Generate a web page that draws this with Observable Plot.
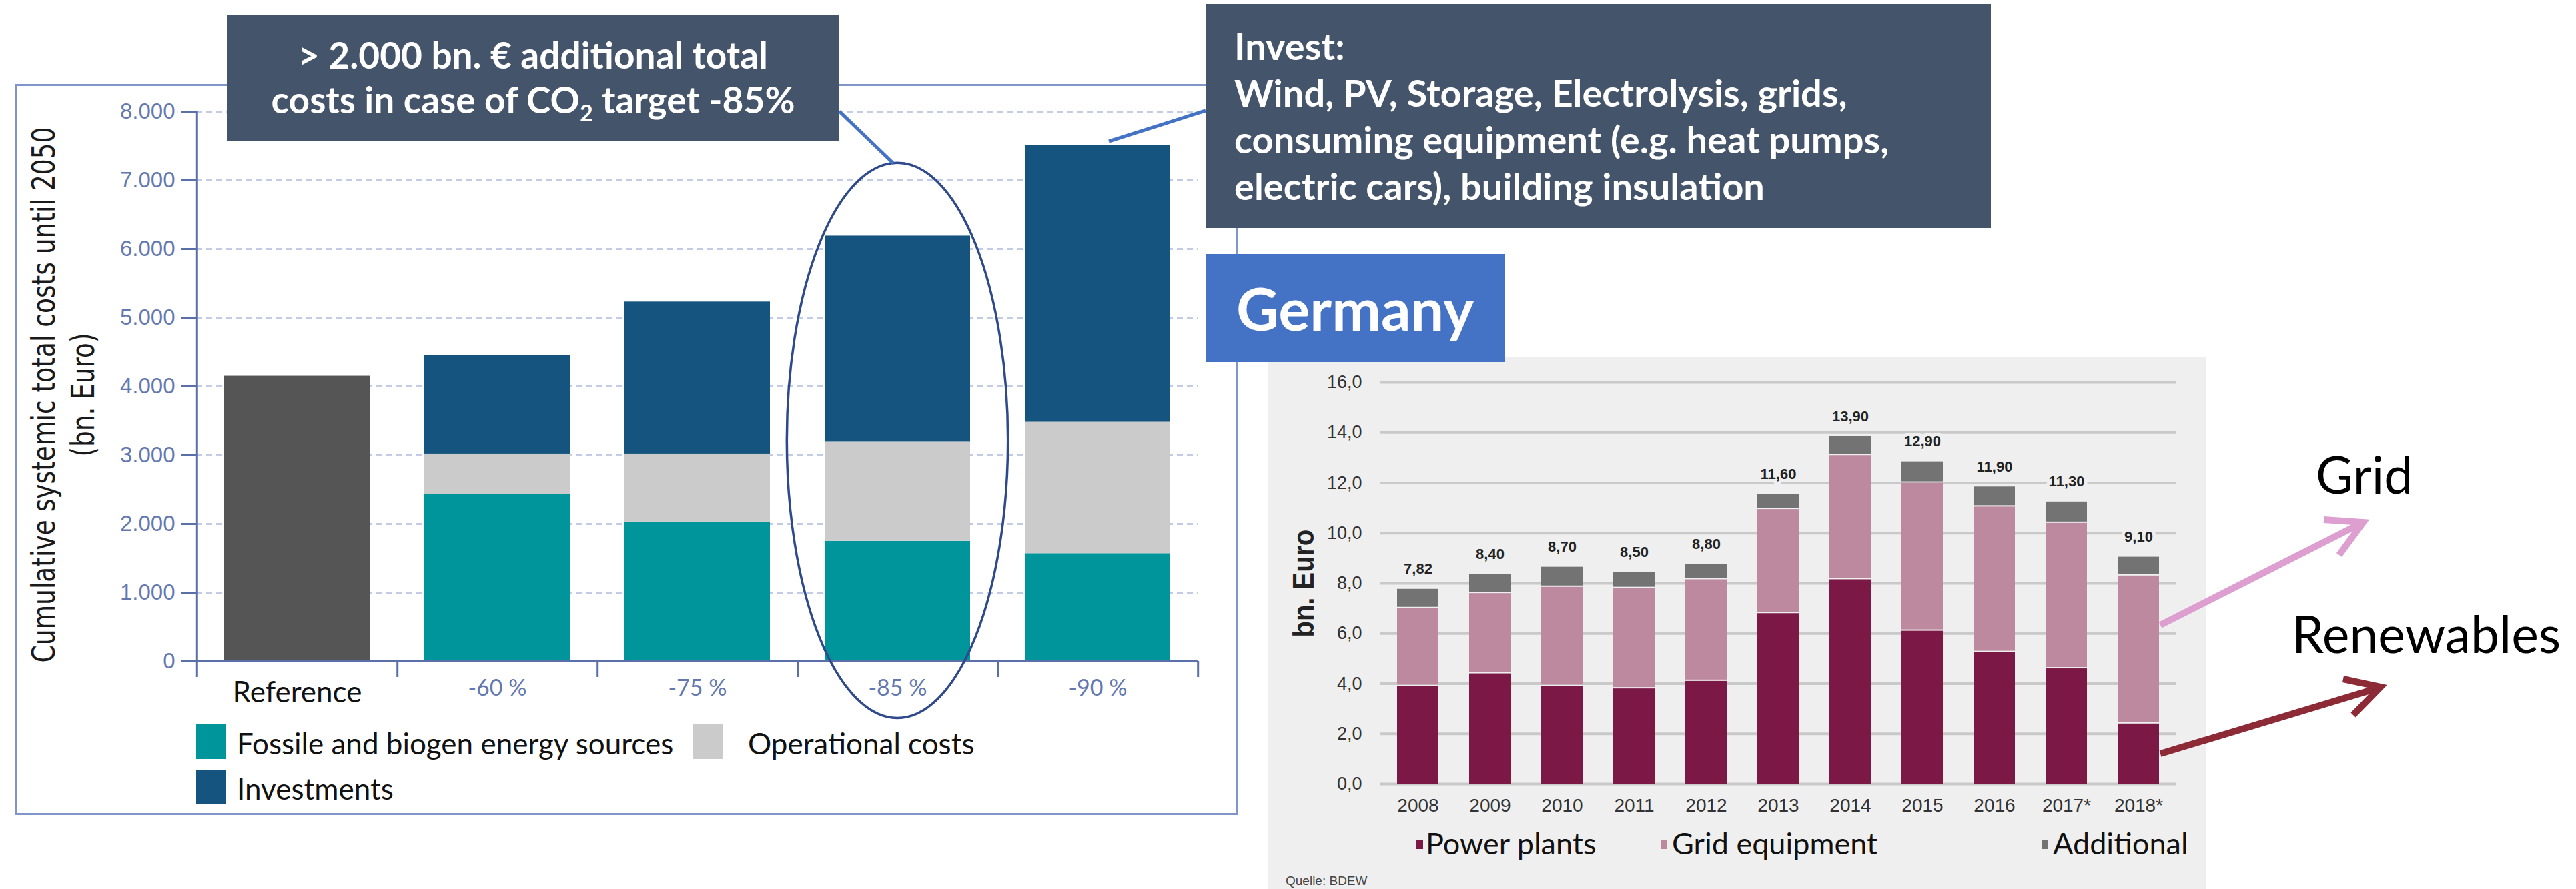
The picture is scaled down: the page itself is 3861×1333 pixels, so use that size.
<!DOCTYPE html>
<html>
<head>
<meta charset="utf-8">
<script src="https://cdn.jsdelivr.net/npm/d3@7"></script>
<script src="https://cdn.jsdelivr.net/npm/@observablehq/plot@0.6"></script>
<style>
html, body { margin: 0; padding: 0; background: #ffffff; }
#stage { position: relative; width: 3861px; height: 1333px; overflow: hidden; font-family: Lato, "Open Sans", sans-serif; }
.abs { position: absolute; }
#frame { left: 22px; top: 126px; width: 1833px; height: 1096px; border: 3px solid #8196c8; box-sizing: border-box; z-index: 0; }
#leftChart { left: 0; top: 0; z-index: 1; }
#rightChart { left: 1901px; top: 535px; z-index: 1; }
.box { background: #44546a; color: #ffffff; font-weight: bold; z-index: 3; box-sizing: border-box; white-space: nowrap; }
#box1 { left: 340px; top: 22px; width: 918px; height: 189px; font-size: 55px; line-height: 67px; text-align: center; padding-top: 27px; }
#box2 { left: 1807px; top: 6px; width: 1177px; height: 336px; font-size: 56px; line-height: 70px; padding-left: 43px; padding-top: 28px; }
#germany { left: 1807px; top: 381px; width: 448px; height: 162px; background: #4472c4; color: #fff; font-weight: bold; font-size: 88px; line-height: 162px; padding-left: 46px; box-sizing: border-box; z-index: 3; }
.leg { font-size: 44px; color: #111; line-height: 52px; z-index: 2; white-space: nowrap; }
.sw { z-index: 2; }
.leg2 { font-size: 45px; color: #111; z-index: 2; white-space: nowrap; line-height: 50px; }
.mk { width: 10px; height: 14px; z-index: 2; }
#overlay { left: 0; top: 0; z-index: 4; pointer-events: none; }
sub { font-size: 0.62em; line-height: 0; }
</style>
</head>
<body>
<div id="stage">
  <div id="frame" class="abs"></div>
  <div id="leftChart" class="abs"></div>
  <div id="rightChart" class="abs"></div>

  <div id="box1" class="abs box">&gt; 2.000 bn. € additional total<br>costs in case of CO<sub>2</sub> target -85%</div>
  <div id="box2" class="abs box">Invest:<br>Wind, PV, Storage, Electrolysis, grids,<br>consuming equipment (e.g. heat pumps,<br>electric cars), building insulation</div>
  <div id="germany" class="abs">Germany</div>

  <div class="abs" style="left:1927px; top:1310px; font-family:'Liberation Sans', Arial, sans-serif; font-size:19px; color:#444; z-index:2;">Quelle: BDEW</div>

  <svg id="overlay" class="abs" width="3861" height="1333">
    <line x1="1258" y1="167" x2="1339" y2="245" stroke="#4472c4" stroke-width="5"/>
    <line x1="1662" y1="212" x2="1807" y2="166" stroke="#4472c4" stroke-width="5"/>
    <g fill="none" stroke="#dd9fd0" stroke-width="10" stroke-linejoin="miter">
      <line x1="3238" y1="937" x2="3540" y2="784"/>
      <polyline points="3483,779 3542,783 3506,832"/>
    </g>
    <g fill="none" stroke="#8c2a36" stroke-width="10" stroke-linejoin="miter">
      <line x1="3238" y1="1130" x2="3566" y2="1031"/>
      <polyline points="3512,1018 3568,1030 3527,1072"/>
    </g>
    <text x="3471" y="740" font-family="Lato, sans-serif" font-size="77" fill="#000">Grid</text>
    <text x="3435" y="979" font-family="Lato, sans-serif" font-size="77" fill="#000">Renewables</text>
  </svg>
</div>

<script>
// ---------- Left chart data (cumulative systemic total costs until 2050, bn. Euro) ----------
const scenarios = ["Reference", "-60 %", "-75 %", "-85 %", "-90 %"];
const referenceCost = [4150];
const fossile = [2430, 2030, 1750, 1570];        // -60 %, -75 %, -85 %, -90 %
const operational = [590, 990, 1440, 1910];
const investments = [1430, 2210, 3000, 4030];
const leftComponents = ["Fossile and biogen energy sources", "Operational costs", "Investments"];
const leftColors = ["#00959b", "#cbcbcb", "#14547e"];
const referenceColor = "#555555";
const leftYTicks = [0, 1000, 2000, 3000, 4000, 5000, 6000, 7000, 8000];
const leftYTitle1 = "Cumulative systemic total costs until 2050";
const leftYTitle2 = "(bn. Euro)";
const ellipseScenario = "-85 %";
const ellipseTop = 7250, ellipseBottom = -830;

// ---------- Right chart data (Germany, bn. Euro) ----------
const years = ["2008", "2009", "2010", "2011", "2012", "2013", "2014", "2015", "2016", "2017*", "2018*"];
const powerPlants   = [3.95, 4.45, 3.95, 3.85, 4.15, 6.85, 8.20, 6.15, 5.30, 4.65, 2.45];
const gridEquipment = [3.10, 3.20, 3.95, 4.00, 4.05, 4.15, 4.95, 5.90, 5.80, 5.80, 5.90];
const additional    = [0.77, 0.75, 0.80, 0.65, 0.60, 0.60, 0.75, 0.85, 0.80, 0.85, 0.75];
const rightComponents = ["Power plants", "Grid equipment", "Additional"];
const rightColors = ["#7b1845", "#bd899f", "#737373"];
const rightYTicks = [0, 2, 4, 6, 8, 10, 12, 14, 16];
const rightYTitle = "bn. Euro";

// ---------- Build tables ----------
const leftRows = [{scenario: scenarios[0], component: "Reference", value: referenceCost[0]}];
scenarios.slice(1).forEach((s, i) => {
  leftRows.push({scenario: s, component: leftComponents[0], value: fossile[i]});
  leftRows.push({scenario: s, component: leftComponents[1], value: operational[i]});
  leftRows.push({scenario: s, component: leftComponents[2], value: investments[i]});
});

const rightRows = [];
const totalRows = [];
years.forEach((y, i) => {
  rightRows.push({year: y, component: rightComponents[0], value: powerPlants[i]});
  rightRows.push({year: y, component: rightComponents[1], value: gridEquipment[i]});
  rightRows.push({year: y, component: rightComponents[2], value: additional[i]});
  const total = powerPlants[i] + gridEquipment[i] + additional[i];
  totalRows.push({year: y, total, label: total.toFixed(2).replace(".", ",")});
});

// ---------- Left chart ----------
const W1 = 1860, H1 = 1333, mL1 = 294, mR1 = 64, mT1 = 167, mB1 = 342;
const step1 = (W1 - mL1 - mR1) / scenarios.length;
const axisBlue = "#5b70a8";
const tickBlue = "#6478b0";

function ellipseAnnotation(index, scales) {
  const x = scales.x, y = scales.y;
  const bw = x.bandwidth ? x.bandwidth() : step1 * 0.727;
  const cx = x(ellipseScenario) + bw / 2;
  const yt = y(ellipseTop), yb = y(ellipseBottom);
  const el = document.createElementNS("http://www.w3.org/2000/svg", "ellipse");
  el.setAttribute("cx", cx);
  el.setAttribute("cy", (yt + yb) / 2);
  el.setAttribute("rx", bw * 0.76);
  el.setAttribute("ry", (yb - yt) / 2);
  el.setAttribute("fill", "none");
  el.setAttribute("stroke", "#2e4a8c");
  el.setAttribute("stroke-width", 3.5);
  return el;
}

const leftPlot = Plot.plot({
  width: W1, height: H1,
  marginLeft: mL1, marginRight: mR1, marginTop: mT1, marginBottom: mB1,
  style: {fontFamily: "Lato, sans-serif", background: "transparent", overflow: "visible"},
  x: {domain: scenarios, paddingInner: 0.273, paddingOuter: 0.1365, label: null},
  y: {domain: [0, 8000], label: null},
  color: {domain: ["Reference", ...leftComponents], range: [referenceColor, ...leftColors]},
  marks: [
    Plot.gridY(leftYTicks.slice(1), {stroke: "#c3cce4", strokeOpacity: 1, strokeWidth: 3, strokeDasharray: "9,6"}),
    Plot.barY(leftRows, {x: "scenario", y: "value", fill: "component", order: ["Reference", ...leftComponents]}),
    Plot.ruleY([0], {stroke: axisBlue, strokeWidth: 3}),
    Plot.tickX([scenarios[0]], {x: d => d, dx: -step1 / 2, stroke: axisBlue, strokeWidth: 3}),
    Plot.axisY({ticks: leftYTicks, tickSize: 22, tickPadding: 10, stroke: axisBlue, strokeWidth: 3,
      fill: tickBlue, fontSize: 33, fontFamily: "'Liberation Sans', Arial, sans-serif",
      tickFormat: d => d === 0 ? "0" : d3.format(",")(d).replace(",", "."), label: null}),
    Plot.axisX({ticks: scenarios, tickSize: 24, fill: "none", stroke: axisBlue, strokeWidth: 3, dx: step1 / 2, label: null}),
    Plot.axisX({ticks: [scenarios[0]], tickSize: 24, fill: "none", stroke: axisBlue, strokeWidth: 3, dx: -step1 / 2, label: null}),
    Plot.axisX({ticks: [scenarios[0]], tickSize: 0, tickPadding: 30, fontSize: 44, fill: "#111", label: null}),
    Plot.axisX({ticks: scenarios.slice(1), tickSize: 0, tickPadding: 27, fontSize: 34, fill: tickBlue, label: null}),
    Plot.text([leftYTitle1], {frameAnchor: "left", textAnchor: "middle", dx: 66.5 - mL1, dy: 12.5, rotate: -90,
      fontSize: 48, fontFamily: "DejaVu Sans", fill: "#1a1a1a"}),
    Plot.text([leftYTitle2], {frameAnchor: "left", textAnchor: "middle", dx: 125.5 - mL1, dy: 12.5, rotate: -90,
      fontSize: 48, fontFamily: "DejaVu Sans", fill: "#1a1a1a"}),
    ellipseAnnotation
  ]
});
document.getElementById("leftChart").appendChild(leftPlot);

// ---------- Right chart ----------
const W2 = 1406, H2 = 798, mL2 = 167, mR2 = 46, mT2 = 38, mB2 = 158;
const rightPlot = Plot.plot({
  width: W2, height: H2,
  marginLeft: mL2, marginRight: mR2, marginTop: mT2, marginBottom: mB2,
  style: {fontFamily: "'Liberation Sans', Arial, sans-serif", background: "#efefef", overflow: "visible"},
  x: {domain: years, paddingInner: 0.43, paddingOuter: 0.215, label: null},
  y: {domain: [0, 16], label: null},
  color: {domain: rightComponents, range: rightColors},
  marks: [
    Plot.gridY(rightYTicks, {stroke: "#c9c9c9", strokeOpacity: 1, strokeWidth: 4}),
    Plot.barY(rightRows, {x: "year", y: "value", fill: "component", order: rightComponents, insetTop: 2}),
    Plot.text(totalRows, {x: "year", y: "total", text: "label", dy: -28, fontSize: 22, fontWeight: "bold",
      fill: "#222", stroke: "#efefef", strokeWidth: 10, paintOrder: "stroke"}),
    Plot.axisY({ticks: rightYTicks, tickSize: 0, tickPadding: 27, fontSize: 27, fill: "#333",
      tickFormat: d => d.toFixed(1).replace(".", ","), label: null}),
    Plot.axisX({tickSize: 0, tickPadding: 22, fontSize: 28, fill: "#333", label: null}),
    Plot.text([rightYTitle], {frameAnchor: "left", textAnchor: "middle", dx: 53 - mL2, rotate: -90, fontSize: 44, fontWeight: "bold", fill: "#222"})
  ]
});
document.getElementById("rightChart").appendChild(rightPlot);

// Fit rotated axis titles to the lengths they occupy in the reference
function fitText(svg, content, length) {
  svg.querySelectorAll("text").forEach(t => {
    if (t.textContent === content) {
      t.setAttribute("textLength", length);
      t.setAttribute("lengthAdjust", "spacingAndGlyphs");
    }
  });
}
fitText(leftPlot, leftYTitle1, 803);
fitText(leftPlot, leftYTitle2, 185);
fitText(rightPlot, rightYTitle, 162);

// ---------- Legends ----------
const stage = document.getElementById("stage");
function addDiv(cls, style, text) {
  const d = document.createElement("div");
  d.className = "abs " + cls;
  Object.assign(d.style, style);
  if (text) d.textContent = text;
  stage.appendChild(d);
}
const leftLegendPos = [
  {sx: 294, sy: 1086, tx: 355},
  {sx: 1039, sy: 1086, tx: 1121},
  {sx: 294, sy: 1154, tx: 355}
];
leftComponents.forEach((c, i) => {
  const p = leftLegendPos[i];
  addDiv("sw", {left: p.sx + "px", top: p.sy + "px", width: "45px", height: "52px", background: leftColors[i]});
  addDiv("leg", {left: p.tx + "px", top: (p.sy + 2) + "px"}, c);
});
const rightLegendPos = [{mx: 2123, tx: 2137}, {mx: 2489, tx: 2506}, {mx: 3060, tx: 3077}];
rightComponents.forEach((c, i) => {
  const p = rightLegendPos[i];
  addDiv("mk", {left: p.mx + "px", top: "1259px", background: rightColors[i]});
  addDiv("leg2", {left: p.tx + "px", top: "1239px"}, c);
});
</script>
</body>
</html>
